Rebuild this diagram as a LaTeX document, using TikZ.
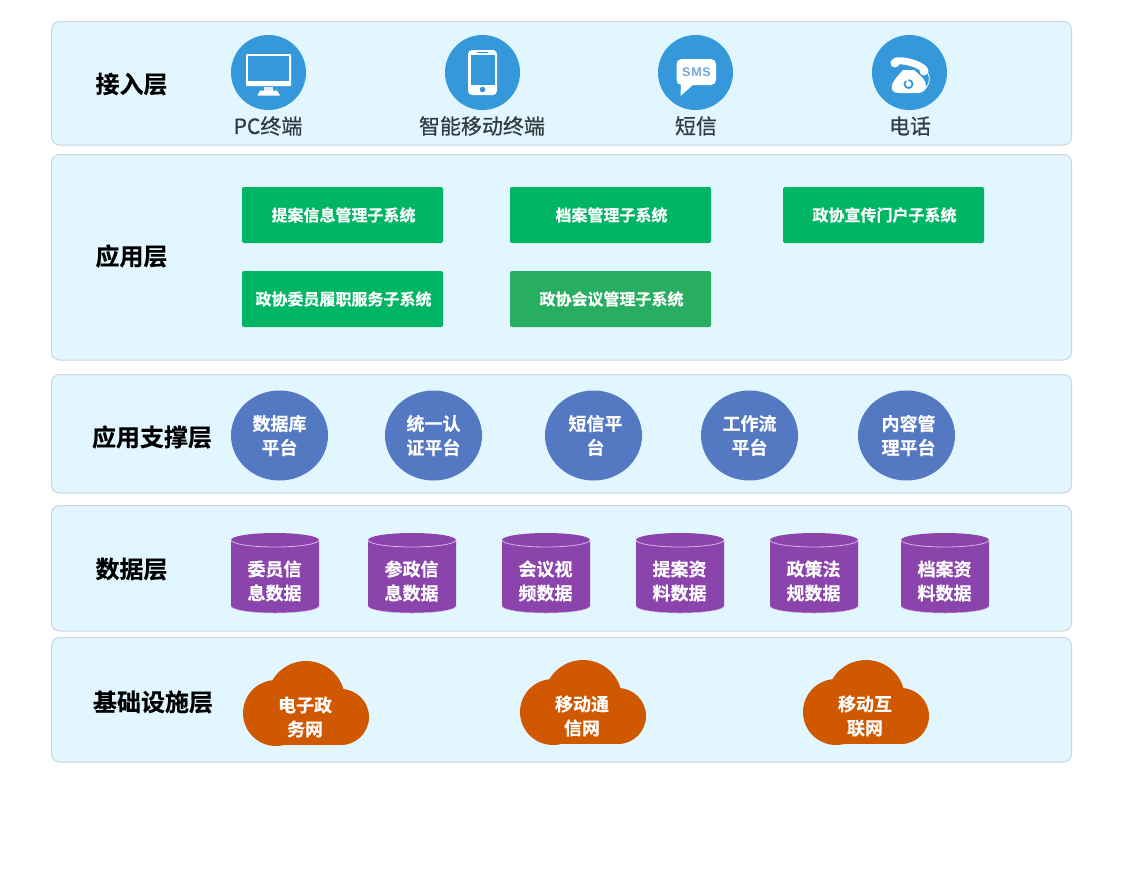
\documentclass[tikz,border=0pt]{standalone}
\usepackage{fontspec}
\setmainfont{Noto Sans CJK SC}[BoldFont={* Bold}]
\newfontfamily\boldcjk{Noto Sans CJK SC Bold}[FakeBold=0.35]
\newfontfamily\capcjk{Noto Sans CJK SC}[FakeBold=0.6]
\newfontfamily\smsfam{Liberation Sans}[LetterSpace=6]
\usetikzlibrary{shapes.geometric}
\definecolor{panelfill}{HTML}{E1F6FF}
\definecolor{panelline}{HTML}{CBD6DD}
\definecolor{iconblue}{HTML}{3498DB}
\definecolor{greenA}{HTML}{00B564}
\definecolor{greenB}{HTML}{27AE60}
\definecolor{ovalblue}{HTML}{5578C2}
\definecolor{purp}{HTML}{8A44AC}
\definecolor{purpl}{HTML}{D9B3E8}
\definecolor{cloudc}{HTML}{D05800}
\definecolor{capt}{HTML}{333B42}
\definecolor{smsblue}{HTML}{6FA8D8}
\tikzset{
  x=1pt,y=-1pt,
  panel/.style={draw=panelline,line width=1pt,fill=panelfill,rounded corners=8pt},
  layer/.style={font=\boldcjk\fontsize{24}{28}\selectfont,text=black,inner sep=0pt},
  iconcirc/.style={circle,fill=iconblue,minimum size=75pt,inner sep=0pt},
  caption/.style={font=\capcjk\fontsize{21}{25}\selectfont,text=capt,inner sep=0pt},
  sysbox/.style={rectangle,rounded corners=2pt,fill=greenA,minimum width=201pt,minimum height=56pt,inner sep=0pt,text=white,font=\boldcjk\fontsize{16}{20}\selectfont},
  oval/.style={ellipse,fill=ovalblue,minimum width=97pt,minimum height=90pt,inner sep=0pt,text=white,align=center,font=\boldcjk\fontsize{18}{24}\selectfont},
  inner/.style={text=white,align=center,inner sep=0pt,font=\boldcjk\fontsize{18}{24}\selectfont},
  drum/.pic={
    \fill[purp] (-44,-33) -- (-44,33) arc[x radius=44,y radius=7,start angle=180,end angle=0] -- (44,-33) arc[x radius=44,y radius=7,start angle=0,end angle=-180] -- cycle;
    \draw[purpl,line width=.8pt] (-44,-33) arc[x radius=44,y radius=7,start angle=180,end angle=0];
    \draw[purpl,line width=.5pt] (-44,33) arc[x radius=44,y radius=7,start angle=180,end angle=0];
  },
  cloudpic/.pic={
    \begin{scope}
      \clip (-5,-5) rectangle (131,84);
      \fill[cloudc] (33,52) circle[radius=33];
      \fill[cloudc] (63,39) circle[radius=39];
      \fill[cloudc] (98,56) circle[radius=28];
      \fill[cloudc] (33,50) rectangle (98,84);
    \end{scope}
  }
}
\begin{document}
\begin{tikzpicture}
\useasboundingbox (0,0) rectangle (1124,879);
\fill[white] (0,0) rectangle (1124,879);
% panels
\draw[panel] (51.5,21.5) rectangle (1071.5,145);
\draw[panel] (51.5,154.5) rectangle (1071.5,360);
\draw[panel] (51.5,374.5) rectangle (1071.5,493);
\draw[panel] (51.5,505.5) rectangle (1071.5,631);
\draw[panel] (51.5,637.5) rectangle (1071.5,762);
% layer names
\node[layer] (l1) at (131.5,84) {接入层};
\node[layer] (l2) at (131.5,256) {应用层};
\node[layer] (l3) at (152,437) {应用支撑层};
\node[layer] (l4) at (131.5,569) {数据层};
\node[layer] (l5) at (153,702) {基础设施层};
% access icons
\node[iconcirc] (a1) at (268.5,72.5) {};
\node[iconcirc] (a2) at (482.5,72.5) {};
\node[iconcirc] (a3) at (695.5,72.5) {};
\node[iconcirc] (a4) at (909.5,72.5) {};
\node[caption] (c1) at (268,126) {PC终端};
\node[caption] (c2) at (482,126) {智能移动终端};
\node[caption] (c3) at (696,126) {短信};
\node[caption] (c4) at (910,126) {电话};
% monitor
\fill[white,rounded corners=1pt] (246,54) rectangle (291,86);
\fill[iconblue] (248,56) rectangle (289,81);
\fill[white!85!iconblue] (264,87) rectangle (273,91);
\fill[white] (260,90.5) -- (277,90.5) -- (280,95.5) -- (257.5,95.5) -- cycle;
% phone
\fill[white,rounded corners=4pt] (468,50) rectangle (497,95);
\fill[iconblue] (470.5,55) rectangle (494.5,85);
\fill[iconblue] (482.5,89.5) circle[radius=2.8];
\fill[iconblue,rounded corners=.5pt] (477,52) rectangle (488,53);
% sms
\fill[white,rounded corners=5pt] (676.5,59) rectangle (716,85);
\fill[white] (681,83) -- (680.5,96) -- (694,84) -- cycle;
\node[text=smsblue,font=\smsfam\bfseries\fontsize{12.5}{13}\selectfont,inner sep=0pt] (smstxt) at (696.5,72) {SMS};
% telephone
\draw[white,line width=7pt,line cap=round] (896,61) .. controls (904,60) and (917,63) .. (924,69);
\fill[white] (895,63) circle[radius=4.5];
\fill[white] (924,71) circle[radius=4.5];
\fill[white] (903,70) -- (914,70) .. controls (921,76) and (927,81) .. (926,87) .. controls (925,91) and (922,93) .. (918,93) -- (899,93) .. controls (893,93) and (891,90) .. (892,85) .. controls (894,79) and (899,75) .. (903,70) -- cycle;
\draw[white,line width=.8pt] (928,73) .. controls (931,79) and (929,86) .. (924,90);
\draw[iconblue,line width=1.8pt] (908.5,80) arc[radius=4,start angle=-90,end angle=230];
% application boxes
\node[sysbox] (s1) at (342.5,215) {\hspace*{2pt}提案信息管理子系统};
\node[sysbox] (s2) at (610.5,215) {\hspace*{2pt}档案管理子系统};
\node[sysbox] (s3) at (883.5,215) {\hspace*{2pt}政协宣传门户子系统};
\node[sysbox] (s4) at (342.5,299) {\hspace*{2pt}政协委员履职服务子系统};
\node[sysbox,fill=greenB] (s5) at (610.5,299) {\hspace*{2pt}政协会议管理子系统};
% platform ovals
\node[oval] (o1) at (279.5,435.5) {数据库\\平台};
\node[oval] (o2) at (433.5,435.5) {统一认\\证平台};
\node[oval] (o3) at (593.5,435.5) {\hspace*{4pt}短信平\\\hspace*{4pt}台};
\node[oval] (o4) at (749.5,435.5) {工作流\\平台};
\node[oval] (o5) at (906.5,435.5) {\hspace*{4pt}内容管\\\hspace*{4pt}理平台};
% drums
\pic at (275,573) {drum};
\pic at (412,573) {drum};
\pic at (546,573) {drum};
\pic at (680,573) {drum};
\pic at (814,573) {drum};
\pic at (945,573) {drum};
\node[inner] (d1) at (274.5,581) {委员信\\息数据};
\node[inner] (d2) at (411.5,581) {参政信\\息数据};
\node[inner] (d3) at (545.5,581) {会议视\\频数据};
\node[inner] (d4) at (679.5,581) {提案资\\料数据};
\node[inner] (d5) at (813.5,581) {政策法\\规数据};
\node[inner] (d6) at (944.5,581) {档案资\\料数据};
% clouds
\pic at (243,661) {cloudpic};
\pic at (520,660) {cloudpic};
\pic at (803,660) {cloudpic};
\node[inner] (n1) at (305,717) {电子政\\务网};
\node[inner] (n2) at (582,716) {移动通\\信网};
\node[inner] (n3) at (865,716) {移动互\\联网};
\end{tikzpicture}
\end{document}
